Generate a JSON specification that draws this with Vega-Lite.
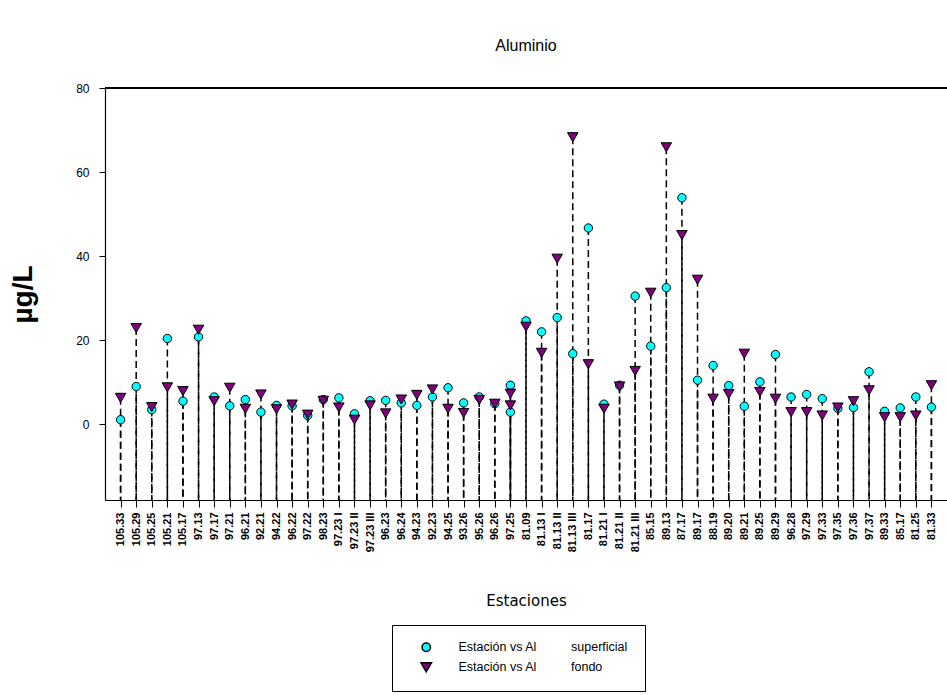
{
  "$schema": "https://vega.github.io/schema/vega-lite/v6.json",
  "autosize": {"type": "none"},
  "padding": {"left": 105, "top": 88, "right": 0, "bottom": 195},
  "width": 842,
  "height": 412,
  "background": "white",
  "title": {"text": "Aluminio", "font": "Liberation Sans", "fontSize": 16, "fontWeight": "normal", "color": "black", "anchor": "middle", "offset": 28},
  "config": {
    "view": {"stroke": null},
    "axis": {"labelFont": "Liberation Sans", "titleFont": "Liberation Sans", "labelColor": "black", "titleColor": "black", "domainColor": "black", "tickColor": "black", "grid": false},
    "legend": {"labelFont": "Liberation Sans", "labelColor": "black"}
  },
  "data": {"values": [
    {"station": "105.33", "superficial": 1.1, "fondo": 6.3},
    {"station": "105.29", "superficial": 9.0, "fondo": 22.9},
    {"station": "105.25", "superficial": 3.5, "fondo": 4.1},
    {"station": "105.21", "superficial": 20.4, "fondo": 8.8},
    {"station": "105.17", "superficial": 5.5, "fondo": 7.9},
    {"station": "97.13", "superficial": 20.8, "fondo": 22.5},
    {"station": "97.17", "superficial": 6.5, "fondo": 5.5},
    {"station": "97.21", "superficial": 4.4, "fondo": 8.7},
    {"station": "96.21", "superficial": 5.9, "fondo": 3.7},
    {"station": "92.21", "superficial": 2.9, "fondo": 7.1},
    {"station": "94.22", "superficial": 4.5, "fondo": 3.6},
    {"station": "96.22", "superficial": 4.4, "fondo": 4.7},
    {"station": "97.22", "superficial": 2.1, "fondo": 2.3},
    {"station": "98.23", "superficial": 5.9, "fondo": 5.6},
    {"station": "97.23 I", "superficial": 6.3, "fondo": 4.0},
    {"station": "97.23 II", "superficial": 2.5, "fondo": 1.1},
    {"station": "97.23 III", "superficial": 5.6, "fondo": 4.5},
    {"station": "96.23", "superficial": 5.7, "fondo": 2.6},
    {"station": "96.24", "superficial": 5.1, "fondo": 5.9},
    {"station": "94.23", "superficial": 4.5, "fondo": 7.0},
    {"station": "92.23", "superficial": 6.5, "fondo": 8.3},
    {"station": "94.25", "superficial": 8.7, "fondo": 3.7},
    {"station": "93.26", "superficial": 5.1, "fondo": 2.7},
    {"station": "95.26", "superficial": 6.5, "fondo": 5.8},
    {"station": "96.26", "superficial": 4.9, "fondo": 4.9},
    {"station": "97.25", "superficial": 9.3, "fondo": 7.3},
    {"station": "97.25", "superficial": 2.9, "fondo": 4.5},
    {"station": "81.09", "superficial": 24.6, "fondo": 23.2},
    {"station": "81.13 I", "superficial": 22.0, "fondo": 17.0},
    {"station": "81.13 II", "superficial": 25.4, "fondo": 39.4},
    {"station": "81.13 III", "superficial": 16.8, "fondo": 68.3},
    {"station": "81.17", "superficial": 46.7, "fondo": 14.3},
    {"station": "81.21 I", "superficial": 4.8, "fondo": 3.7},
    {"station": "81.21 II", "superficial": 9.3, "fondo": 9.0},
    {"station": "81.21 III", "superficial": 30.5, "fondo": 12.7},
    {"station": "85.15", "superficial": 18.6, "fondo": 31.3},
    {"station": "89.13", "superficial": 32.5, "fondo": 65.9},
    {"station": "87.17", "superficial": 53.9, "fondo": 45.0},
    {"station": "89.17", "superficial": 10.5, "fondo": 34.4},
    {"station": "88.19", "superficial": 14.0, "fondo": 6.1},
    {"station": "89.20", "superficial": 9.2, "fondo": 7.2},
    {"station": "89.21", "superficial": 4.3, "fondo": 16.8},
    {"station": "89.25", "superficial": 10.1, "fondo": 7.7},
    {"station": "89.29", "superficial": 16.6, "fondo": 6.1},
    {"station": "96.28", "superficial": 6.5, "fondo": 2.9},
    {"station": "97.29", "superficial": 7.1, "fondo": 2.9},
    {"station": "97.33", "superficial": 6.1, "fondo": 2.1},
    {"station": "97.35", "superficial": 3.8, "fondo": 4.0},
    {"station": "97.36", "superficial": 4.0, "fondo": 5.5},
    {"station": "97.37", "superficial": 12.5, "fondo": 8.1},
    {"station": "89.33", "superficial": 3.1, "fondo": 1.7},
    {"station": "85.17", "superficial": 3.9, "fondo": 1.7},
    {"station": "81.25", "superficial": 6.5, "fondo": 2.1},
    {"station": "81.33", "superficial": 4.1, "fondo": 9.3}
  ]},
  "transform": [{"fold": ["superficial", "fondo"], "as": ["serie", "valor"]}],
  "encoding": {
    "x": {"field": "station", "type": "nominal", "sort": null,
      "scale": {"type": "point", "padding": 1.05},
      "axis": {"title": "Estaciones", "titleFont": "DejaVu Sans", "titleFontSize": 15, "titleFontWeight": "normal", "titlePadding": 42,
        "labelAngle": -90, "labelFontSize": 11, "labelFontWeight": "bold", "labelPadding": 5, "tickSize": 7, "domainWidth": 1.2}}
  },
  "layer": [
    {"mark": {"type": "rule", "color": "black", "strokeWidth": 1.2},
     "encoding": {"y": {"datum": 80, "type": "quantitative"}, "x": null}},
    {"mark": {"type": "rule", "color": "black", "strokeWidth": 1.5, "strokeDash": [7, 4]},
     "encoding": {
       "y": {"field": "valor", "type": "quantitative",
         "scale": {"domain": [-18, 80], "nice": false, "zero": false},
         "axis": {"title": "µg/L", "titleFontSize": 28, "titleFontWeight": "bold", "titlePadding": 38,
           "values": [0, 20, 40, 60, 80], "labelFontSize": 12, "tickSize": 6, "labelPadding": 10, "domainWidth": 1.2}},
       "y2": {"datum": -18}
     }},
    {"mark": {"type": "point", "filled": true, "stroke": "black", "strokeWidth": 1, "opacity": 1},
     "encoding": {
       "y": {"field": "valor", "type": "quantitative"},
       "color": {"field": "serie", "type": "nominal",
         "scale": {"domain": ["superficial", "fondo"], "range": ["#00FFFF", "#800080"]},
         "legend": {"title": null, "orient": "none", "legendX": 287, "legendY": 537,
           "labelExpr": "'Estación vs Al\u00a0\u00a0\u00a0\u00a0\u00a0\u00a0\u00a0\u00a0\u00a0\u00a0' + datum.label", "labelFontSize": 12.5,
           "strokeColor": "black", "fillColor": "white", "padding": 16, "rowPadding": 4,
           "symbolOffset": 12, "symbolStrokeColor": "black", "symbolSize": 70, "labelOffset": 26, "labelLimit": 400}},
       "shape": {"field": "serie", "type": "nominal",
         "scale": {"domain": ["superficial", "fondo"], "range": ["circle", "triangle-down"]}},
       "size": {"field": "serie", "type": "nominal",
         "scale": {"domain": ["superficial", "fondo"], "range": [70, 110]}, "legend": null}
     }}
  ]
}
